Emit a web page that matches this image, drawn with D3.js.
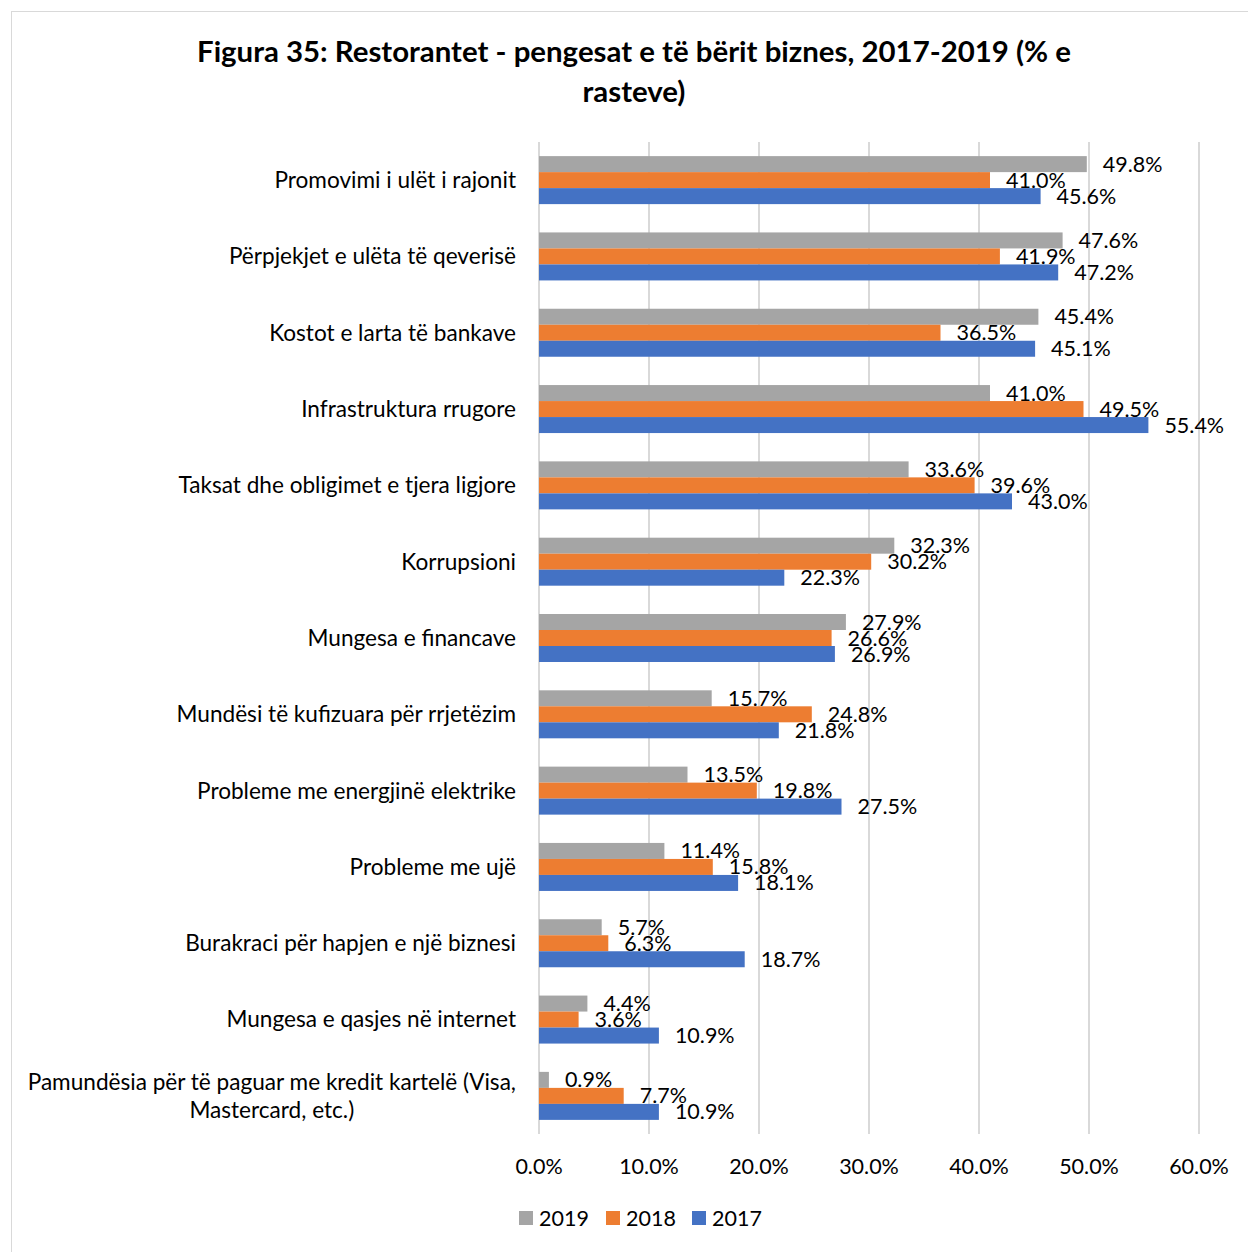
<!DOCTYPE html>
<html>
<head>
<meta charset="utf-8">
<script src="https://cdn.jsdelivr.net/npm/d3@7"></script>
<style>
  body { margin: 0; background: #fff; }
  svg text { font-family: Lato, "Open Sans", sans-serif; fill: #000; }
</style>
</head>
<body>
<svg width="1248" height="1252"></svg>
<script>
var categories = [
  "Promovimi i ulët i rajonit",
  "Përpjekjet e ulëta të qeverisë",
  "Kostot e larta të bankave",
  "Infrastruktura rrugore",
  "Taksat dhe obligimet e tjera ligjore",
  "Korrupsioni",
  "Mungesa e financave",
  "Mundësi të kufizuara për rrjetëzim",
  "Probleme me energjinë elektrike",
  "Probleme me ujë",
  "Burakraci për hapjen e një biznesi",
  "Mungesa e qasjes në internet",
  "Pamundësia për të paguar me kredit kartelë (Visa,|Mastercard, etc.)"
];
var series = ["2019", "2018", "2017"];
var colors = ["#a5a5a5", "#ed7d31", "#4472c4"];
var v2019 = [49.8, 47.6, 45.4, 41.0, 33.6, 32.3, 27.9, 15.7, 13.5, 11.4, 5.7, 4.4, 0.9];
var v2018 = [41.0, 41.9, 36.5, 49.5, 39.6, 30.2, 26.6, 24.8, 19.8, 15.8, 6.3, 3.6, 7.7];
var v2017 = [45.6, 47.2, 45.1, 55.4, 43.0, 22.3, 26.9, 21.8, 27.5, 18.1, 18.7, 10.9, 10.9];
var ticks = [0, 10, 20, 30, 40, 50, 60];
var values = [v2019, v2018, v2017];

var svg = d3.select("svg");

// outer frame
svg.append("rect")
  .attr("x", 11.5).attr("y", 11.5)
  .attr("width", 1250).attr("height", 1250)
  .attr("fill", "none").attr("stroke", "#d9d9d9");

// title
var title = svg.append("text")
  .attr("text-anchor", "middle")
  .attr("font-size", 29.4).attr("font-weight", "bold");
title.append("tspan").attr("x", 634).attr("y", 62)
  .text("Figura 35: Restorantet - pengesat e të bërit biznes, 2017-2019 (% e");
title.append("tspan").attr("x", 634).attr("y", 102).text("rasteve)");

var x = d3.scaleLinear().domain([0, 60]).range([539, 1199]);
var y = d3.scaleBand().domain(d3.range(categories.length))
  .range([142, 1134]).paddingInner(0.371).paddingOuter(0.185);
var yIn = d3.scaleBand().domain(series).range([0, y.bandwidth()]);

// gridlines
svg.append("g").selectAll("line")
  .data(ticks).enter().append("line")
  .attr("x1", d => x(d)).attr("x2", d => x(d))
  .attr("y1", 142).attr("y2", 1134)
  .attr("stroke", "#d9d9d9").attr("stroke-width", 2);

// x axis tick labels
svg.append("g").selectAll("text")
  .data(ticks).enter().append("text")
  .attr("x", d => x(d)).attr("y", 1166).attr("dy", "0.35em")
  .attr("text-anchor", "middle").attr("font-size", 21.5)
  .text(d => d.toFixed(1) + "%");

// bars + labels
series.forEach(function (s, si) {
  var g = svg.append("g");
  g.selectAll("rect")
    .data(values[si]).enter().append("rect")
    .attr("x", x(0))
    .attr("y", (d, i) => y(i) + yIn(s))
    .attr("width", d => x(d) - x(0))
    .attr("height", yIn.bandwidth())
    .attr("fill", colors[si]);
  g.selectAll("text")
    .data(values[si]).enter().append("text")
    .attr("x", d => x(d) + 16)
    .attr("y", (d, i) => y(i) + yIn(s) + yIn.bandwidth() / 2)
    .attr("dy", "0.35em")
    .attr("font-size", 21.5)
    .text(d => d.toFixed(1) + "%");
});

// category labels (wrapped ones are centred within their block)
svg.append("g").selectAll("text")
  .data(categories).enter().append("text")
  .attr("text-anchor", "end").attr("font-size", 22.6)
  .each(function (d, i) {
    var lines = d.split("|");
    var t = d3.select(this);
    var cy = y(i) + y.bandwidth() / 2;
    var spans = lines.map(function (ln, li) {
      return t.append("tspan")
        .attr("x", 516)
        .attr("y", cy + (li - (lines.length - 1) / 2) * 28)
        .attr("dy", "0.35em")
        .text(ln);
    });
    if (lines.length > 1) {
      var w = d3.max(spans, sp => sp.node().getComputedTextLength());
      t.attr("text-anchor", "middle");
      spans.forEach(sp => sp.attr("x", 516 - w / 2));
    }
  });

// legend
var legX = [519, 606, 692];
var leg = svg.append("g").selectAll("g")
  .data(series).enter().append("g")
  .attr("transform", (d, i) => "translate(" + legX[i] + ",1211)");
leg.append("rect").attr("width", 14).attr("height", 14)
  .attr("fill", (d, i) => colors[i]);
leg.append("text").attr("x", 20).attr("y", 7).attr("dy", "0.35em")
  .attr("font-size", 21.5).text(d => d);
</script>
</body>
</html>
